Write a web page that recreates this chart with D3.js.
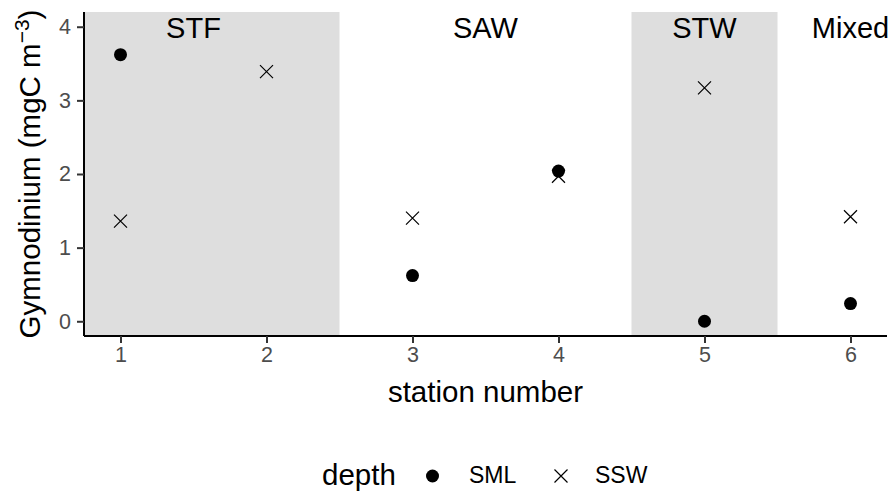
<!DOCTYPE html>
<html>
<head>
<meta charset="utf-8">
<script src="https://cdn.jsdelivr.net/npm/d3@7"></script>
<style>
  body { margin: 0; background: #fff; }
  text { font-family: "Liberation Sans", Arial, sans-serif; }
</style>
</head>
<body>
<svg id="chart" width="893" height="495"></svg>
<script>
// station numbers and values
var stations = [1, 2, 3, 4, 5, 6];
var smlValues = [3.62, null, 0.62, 2.04, 0.0, 0.24];
var sswValues = [1.36, 3.39, 1.40, 1.97, 3.17, 1.42];
var zones = ["STF", "SAW", "STW", "Mixed"];
var zoneStart = [0.75, 2.5, 4.5, 5.5];
var zoneEnd = [2.5, 4.5, 5.5, 6.25];
var zoneLabelX = [1.5, 3.5, 5, 6];
var zoneShaded = [true, false, true, false];
var yTicks = [0, 1, 2, 3, 4];

var svg = d3.select("#chart");
var pLeft = 84, pRight = 887, pTop = 12, pBottom = 336;

var x = d3.scaleLinear().domain([0.75, 6.25]).range([pLeft, pRight]);
var y = d3.scaleLinear().domain([-0.2, 4.2]).range([pBottom, pTop]);

// shaded water-mass zones
var zoneData = zones.map(function (z, i) {
    return { name: z, x0: zoneStart[i], x1: zoneEnd[i], lx: zoneLabelX[i], shade: zoneShaded[i] };
});
svg.selectAll("rect.zone").data(zoneData.filter(function (d) { return d.shade; }))
    .enter().append("rect")
    .attr("class", "zone")
    .attr("x", function (d) { return x(d.x0); })
    .attr("width", function (d) { return x(d.x1) - x(d.x0); })
    .attr("y", pTop)
    .attr("height", pBottom - pTop)
    .attr("fill", "#dedede");

svg.selectAll("text.zone").data(zoneData)
    .enter().append("text")
    .attr("class", "zone")
    .attr("x", function (d) { return x(d.lx); })
    .attr("y", y(4) + 11)
    .attr("text-anchor", "middle")
    .attr("font-size", 29)
    .attr("fill", "#000")
    .text(function (d) { return d.name; });

// points
var sml = stations.map(function (s, i) { return { s: s, v: smlValues[i] }; })
    .filter(function (d) { return d.v !== null; });
var ssw = stations.map(function (s, i) { return { s: s, v: sswValues[i] }; });

var crossPath = "M-6.5,-6.5L6.5,6.5M-6.5,6.5L6.5,-6.5";

svg.selectAll("circle.sml").data(sml)
    .enter().append("circle")
    .attr("class", "sml")
    .attr("cx", function (d) { return x(d.s); })
    .attr("cy", function (d) { return y(d.v); })
    .attr("r", 6.5)
    .attr("fill", "#000");

svg.selectAll("path.ssw").data(ssw)
    .enter().append("path")
    .attr("class", "ssw")
    .attr("transform", function (d) { return "translate(" + x(d.s) + "," + y(d.v) + ")"; })
    .attr("d", crossPath)
    .attr("stroke", "#000")
    .attr("stroke-width", 1.2)
    .attr("fill", "none");

// axes
var xAxis = svg.append("g")
    .attr("transform", "translate(0," + pBottom + ")")
    .call(d3.axisBottom(x).tickValues(stations).tickFormat(d3.format("d")).tickSize(7).tickPadding(4));
var yAxis = svg.append("g")
    .attr("transform", "translate(" + pLeft + ",0)")
    .call(d3.axisLeft(y).tickValues(yTicks).tickFormat(d3.format("d")).tickSize(7).tickPadding(6));

[xAxis, yAxis].forEach(function (g) {
    g.select(".domain").attr("stroke", "#000").attr("stroke-width", 2);
    g.selectAll(".tick line").attr("stroke", "#333").attr("stroke-width", 2);
    g.selectAll(".tick text").attr("fill", "#4d4d4d").attr("font-size", 21.5)
        .attr("font-family", "Liberation Sans, Arial, sans-serif");
});
xAxis.select(".domain").attr("d", "M" + pLeft + ",0H" + pRight);
yAxis.select(".domain").attr("d", "M0," + pTop + "V" + pBottom);

// axis titles
svg.append("text")
    .attr("x", (pLeft + pRight) / 2)
    .attr("y", 402)
    .attr("text-anchor", "middle")
    .attr("font-size", 29.5)
    .text("station number");

var yt = svg.append("text")
    .attr("transform", "translate(40," + (pTop + pBottom) / 2 + ") rotate(-90)")
    .attr("text-anchor", "middle")
    .attr("font-size", 29.5);
yt.append("tspan").text("Gymnodinium (mgC m");
yt.append("tspan").attr("dy", -11).attr("font-size", 21).text("\u22123");
yt.append("tspan").attr("dy", 11).text(")");

// legend
var lg = svg.append("g");
lg.append("text").attr("x", 322).attr("y", 485).attr("font-size", 29.5).text("depth");
lg.append("circle").attr("cx", 432.5).attr("cy", 476).attr("r", 6.5).attr("fill", "#000");
lg.append("text").attr("x", 469).attr("y", 483).attr("font-size", 23).text("SML");
lg.append("path").attr("transform", "translate(561,476)")
    .attr("d", crossPath).attr("stroke", "#000").attr("stroke-width", 1.2);
lg.append("text").attr("x", 595).attr("y", 483).attr("font-size", 23).text("SSW");
</script>
</body>
</html>
